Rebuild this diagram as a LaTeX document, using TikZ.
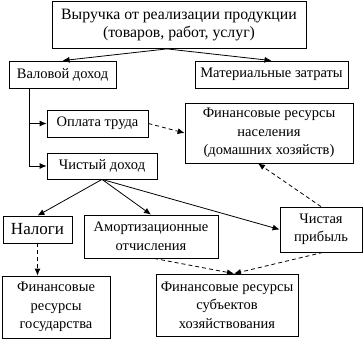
\documentclass[tikz,border=0pt]{standalone}
\usepackage{fontspec}
\setmainfont{Liberation Serif}
\usetikzlibrary{positioning, arrows.meta, calc}

\begin{document}
\begin{tikzpicture}[
        x=1pt, y=-1pt,
        font=\fontsize{14.5}{18.5}\selectfont,
        box/.style={draw, line width=0.8pt, inner sep=0pt, align=center, minimum width=#1},
        box/.default=100pt,
        arr/.style={-{Latex[length=7pt, width=6pt]}, line width=0.8pt},
        darr/.style={arr, dash pattern=on 4pt off 3pt},
    ]
    \useasboundingbox (0,0) rectangle (363,339);

    % ---- Top ----
    \node[box=254pt, minimum height=47pt, font=\fontsize{15.8}{18.5}\selectfont] (vyruchka) at (179,25) {Выручка от реализации продукции\\(товаров, работ, услуг)};
    \node[box=107pt, minimum height=27pt] (valovoy) at (62.5,74.5) {Валовой доход};
    \node[box=153pt, minimum height=27pt] (mater) at (271.5,74.5) {Материальные затраты};

    % ---- Middle ----
    \node[box=101pt, minimum height=27pt] (oplata) at (97.5,123.5) {Оплата труда};
    \node[box=110pt, minimum height=26pt] (chisty) at (102,166) {Чистый доход};
    \node[box=168pt, minimum height=60pt] (naselenie) at (269,133) {Финансовые ресурсы\\населения\\(домашних хозяйств)};

    % ---- Distribution ----
    \node[box=69pt, minimum height=27pt, font=\fontsize{17}{18.5}\selectfont] (nalogi) at (37.5,229.5) {Налоги};
    \node[box=134pt, minimum height=43pt] (amort) at (151,236.5) {Амортизационные\\отчисления};
    \node[box=82pt, minimum height=45pt] (pribyl) at (321,229.5) {Чистая\\прибыль};

    % ---- Bottom ----
    \node[box=108pt, minimum height=62pt] (gosud) at (56,307) {Финансовые\\ресурсы\\государства};
    \node[box=142pt, minimum height=62pt] (subjekt) at (227,305) {Финансовые ресурсы\\субъектов\\хозяйствования};
    \coordinate (meet) at ([xshift=7pt]subjekt.north);

    % ---- Arrows ----
    \draw[arr] ([xshift=-12pt]vyruchka.south) -- (valovoy.north);
    \draw[arr] ([xshift=-12pt]vyruchka.south) -- (mater.north);
    \draw[arr] ([xshift=21pt]valovoy.south west) |- (oplata.west);
    \draw[arr] ([xshift=21pt]valovoy.south west) |- (chisty.west);
    \draw[darr] (oplata.east) -- (naselenie.west);
    \draw[arr] (chisty.south) -- (nalogi.north);
    \draw[arr] (chisty.south) -- (amort.north);
    \draw[arr] (chisty.south) -- (pribyl.west);
    \draw[darr] (pribyl.north) -- ([xshift=-11pt]naselenie.south);
    \draw[darr] (nalogi.south) -- (nalogi.south |- gosud.north);
    \draw[darr] ([xshift=3pt]amort.south) -- (meet);
    \draw[darr] ([xshift=2pt]pribyl.south) -- (meet);
\end{tikzpicture}
\end{document}
